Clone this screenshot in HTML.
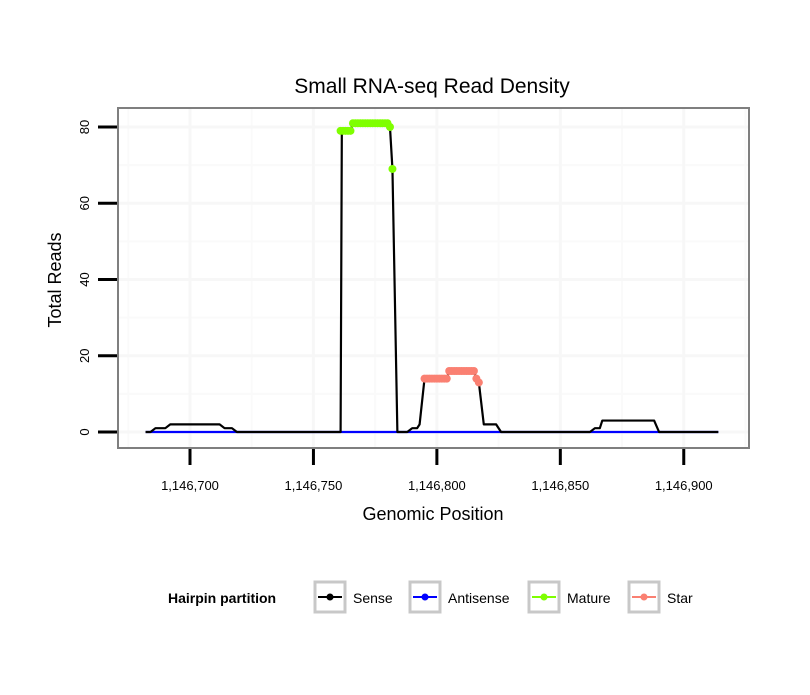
<!DOCTYPE html>
<html><head><meta charset="utf-8"><style>
body{margin:0;background:#fff;font-family:"Liberation Sans",sans-serif}
</style></head><body>
<svg id="c" width="810" height="690" xmlns="http://www.w3.org/2000/svg" font-family="Liberation Sans, sans-serif">
<rect width="810" height="690" fill="#fff"/>
<text x="432" y="93" font-size="21" text-anchor="middle">Small RNA-seq Read Density</text>
<g id="grid"></g>
<g id="series"></g>
<rect x="118" y="108" width="631" height="340" fill="none" stroke="#7f7f7f" stroke-width="2"/>
<g id="axes"></g>
<text x="433" y="520" font-size="18" text-anchor="middle">Genomic Position</text>
<text transform="translate(61,280) rotate(-90)" font-size="18" text-anchor="middle">Total Reads</text>
<g>
<text x="168" y="603" font-size="14" font-weight="bold">Hairpin partition</text>
<g><rect x="315" y="582" width="30" height="30" fill="#fff" stroke="#c8c8c8" stroke-width="3"/><line x1="318" y1="597" x2="342" y2="597" stroke="#000" stroke-width="2"/><circle cx="330" cy="597" r="3.5" fill="#000"/><text x="353" y="603" font-size="14">Sense</text></g>
<g><rect x="410" y="582" width="30" height="30" fill="#fff" stroke="#c8c8c8" stroke-width="3"/><line x1="413" y1="597" x2="437" y2="597" stroke="#00f" stroke-width="2"/><circle cx="425" cy="597" r="3.5" fill="#00f"/><text x="448" y="603" font-size="14">Antisense</text></g>
<g><rect x="529" y="582" width="30" height="30" fill="#fff" stroke="#c8c8c8" stroke-width="3"/><line x1="532" y1="597" x2="556" y2="597" stroke="#7fff00" stroke-width="2"/><circle cx="544" cy="597" r="3.5" fill="#7fff00"/><text x="567" y="603" font-size="14">Mature</text></g>
<g><rect x="629" y="582" width="30" height="30" fill="#fff" stroke="#c8c8c8" stroke-width="3"/><line x1="632" y1="597" x2="656" y2="597" stroke="#fa8072" stroke-width="2"/><circle cx="644" cy="597" r="3.5" fill="#fa8072"/><text x="667" y="603" font-size="14">Star</text></g>
</g>
</svg>
<script>
const senseX=[1146682,1146684,1146686,1146690,1146692,1146712,1146714,1146717,1146719,1146761,1146761.5,1146765,1146766,1146780,1146781,1146782,1146784,1146788,1146790,1146792,1146793,1146795,1146804,1146805,1146815,1146816,1146817,1146819,1146824,1146826,1146862,1146864,1146866,1146867,1146888,1146890,1146914];
const senseY=[0,0,1,1,2,2,1,1,0,0,79,79,81,81,80,69,0,0,1,1,2,14,14,16,16,14,13,2,2,0,0,1,1,3,3,0,0];
const antisenseX=[1146682,1146914];
const antisenseY=[0,0];
const matureX=[1146761,1146762,1146763,1146764,1146765,1146766,1146767,1146768,1146769,1146770,1146771,1146772,1146773,1146774,1146775,1146776,1146777,1146778,1146779,1146780,1146781,1146782];
const matureY=[79,79,79,79,79,81,81,81,81,81,81,81,81,81,81,81,81,81,81,81,80,69];
const starX=[1146795,1146796,1146797,1146798,1146799,1146800,1146801,1146802,1146803,1146804,1146805,1146806,1146807,1146808,1146809,1146810,1146811,1146812,1146813,1146814,1146815,1146816,1146817];
const starY=[14,14,14,14,14,14,14,14,14,14,16,16,16,16,16,16,16,16,16,16,16,14,13];
const xTicks=[1146700,1146750,1146800,1146850,1146900];
const xTickLabels=["1,146,700","1,146,750","1,146,800","1,146,850","1,146,900"];
const yTicks=[0,20,40,60,80];
const yTickLabels=["0","20","40","60","80"];
const NS="http://www.w3.org/2000/svg";
const sx=v=>190+(v-1146700)*2.4688;
const sy=v=>432-v*3.8125;
function mk(t,a,p){const e=document.createElementNS(NS,t);for(const k in a)e.setAttribute(k,a[k]);p.appendChild(e);return e;}
const grid=document.getElementById('grid'),ser=document.getElementById('series'),ax=document.getElementById('axes');
mk('rect',{x:118,y:108,width:631,height:340,fill:'#fff'},grid);
for(let i=-1;i<xTicks.length;i++){const v=xTicks[0]+(i+0.5)*50;const x=sx(v);if(x>118&&x<749){const l=mk('line',{x1:x,x2:x,y1:109,y2:447,stroke:'#fafafa','stroke-width':2},grid);}}
for(let i=-1;i<yTicks.length;i++){const v=yTicks[0]+(i+0.5)*20;const y=sy(v);if(y>108&&y<448){const l=mk('line',{x1:119,x2:748,y1:y,y2:y,stroke:'#fafafa','stroke-width':2},grid);}}
xTicks.forEach((v,i)=>{const x=sx(v);
const g=mk('line',{x1:x,x2:x,y1:109,y2:447,stroke:'#f7f7f7','stroke-width':3},grid);
const t=mk('line',{x1:x,x2:x,y1:449,y2:465,stroke:'#000','stroke-width':3},ax);
const tx=mk('text',{x:x,y:490,'font-size':13,'text-anchor':'middle'},ax);tx.textContent=xTickLabels[i];});
yTicks.forEach((v,i)=>{const y=sy(v);
const g=mk('line',{x1:119,x2:748,y1:y,y2:y,stroke:'#f7f7f7','stroke-width':3},grid);
const t=mk('line',{x1:98,x2:117,y1:y,y2:y,stroke:'#000','stroke-width':3},ax);
const tx=mk('text',{transform:`translate(89,${y}) rotate(-90)`,'font-size':13,'text-anchor':'middle'},ax);tx.textContent=yTickLabels[i];});
function line(X,Y,c,n){const p=mk('polyline',{points:X.map((v,i)=>sx(v)+','+sy(Y[i])).join(' '),fill:'none',stroke:c,'stroke-width':2.2,'stroke-linejoin':'round'},ser);}
function pts(X,Y,c,n){X.forEach((v,i)=>{const e=mk('circle',{cx:sx(v),cy:sy(Y[i]),r:4,fill:c},ser);});}
line(antisenseX,antisenseY,'#0000ff','antisense-line');
line(senseX,senseY,'#000','sense-line');
pts(matureX,matureY,'#7fff00','mature-point');
pts(starX,starY,'#fa8072','star-point');
</script>
</body></html>
